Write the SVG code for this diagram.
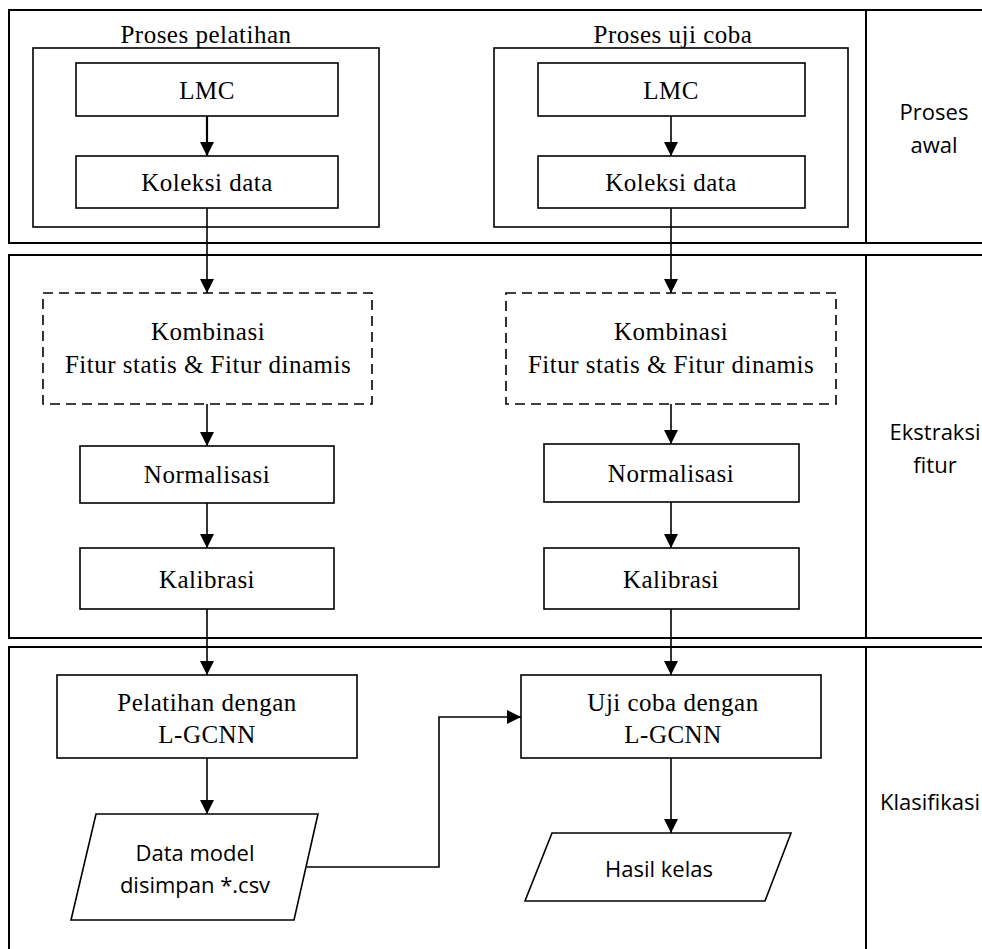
<svg xmlns="http://www.w3.org/2000/svg" width="982" height="949" viewBox="0 0 982 949">
<defs>
<marker id="ah" markerWidth="14" markerHeight="14" refX="14" refY="7" orient="auto" markerUnits="userSpaceOnUse"><path d="M0,0 L14,7 L0,14 z" fill="#000"/></marker>
<style>
.panel{fill:none;stroke:#000;stroke-width:2}
.box{fill:#fff;stroke:#000;stroke-width:1.6}
.dash{fill:#fff;stroke:#000;stroke-width:1.6;stroke-dasharray:10 6}
.serif{font-family:"Liberation Serif","Times New Roman",serif;font-size:25px;letter-spacing:0.5px;text-anchor:middle;fill:#000}
.sans{font-family:"Open Sans","Noto Sans",sans-serif;font-size:22px;text-anchor:middle;fill:#000}
.conn{fill:none;stroke:#000;stroke-width:1.6}
</style>
</defs>
<rect width="982" height="949" fill="#fff"/>
<g id="lanes">
<rect class="panel" x="9" y="10" width="990" height="233"/>
<rect class="panel" x="9" y="255" width="990" height="383"/>
<rect class="panel" x="9" y="647" width="990" height="320"/>
<line class="panel" x1="866" y1="10" x2="866" y2="243"/>
<line class="panel" x1="866" y1="255" x2="866" y2="638"/>
<line class="panel" x1="866" y1="647" x2="866" y2="949"/>
<text class="sans" x="934" y="120">Proses</text>
<text class="sans" x="934" y="153">awal</text>
<text class="sans" x="935" y="440">Ekstraksi</text>
<text class="sans" x="935" y="473">fitur</text>
<text class="sans" x="930" y="810">Klasifikasi</text>
</g>
<g id="group-train">
<rect class="box" x="33" y="48" width="346" height="179"/>
<text class="serif" x="206" y="43">Proses pelatihan</text>
</g>
<g id="group-test">
<rect class="box" x="494" y="48" width="354" height="179"/>
<text class="serif" x="673" y="43">Proses uji coba</text>
</g>
<g id="lmc-train"><rect class="box" x="76" y="63" width="262" height="53"/><text class="serif" x="207" y="99">LMC</text></g>
<g id="koleksi-train"><rect class="box" x="76" y="156" width="262" height="52"/><text class="serif" x="207" y="191">Koleksi data</text></g>
<g id="lmc-test"><rect class="box" x="538" y="63" width="267" height="53"/><text class="serif" x="671" y="99">LMC</text></g>
<g id="koleksi-test"><rect class="box" x="538" y="156" width="267" height="52"/><text class="serif" x="671" y="191">Koleksi data</text></g>
<g id="kombinasi-train"><rect class="dash" x="43" y="293" width="329" height="111"/><text class="serif" x="208" y="340">Kombinasi</text><text class="serif" x="208" y="373">Fitur statis &amp; Fitur dinamis</text></g>
<g id="kombinasi-test"><rect class="dash" x="506" y="293" width="330" height="111"/><text class="serif" x="671" y="340">Kombinasi</text><text class="serif" x="671" y="373">Fitur statis &amp; Fitur dinamis</text></g>
<g id="norm-train"><rect class="box" x="80" y="446" width="254" height="57"/><text class="serif" x="207" y="483">Normalisasi</text></g>
<g id="norm-test"><rect class="box" x="544" y="444" width="255" height="58"/><text class="serif" x="671" y="482">Normalisasi</text></g>
<g id="kal-train"><rect class="box" x="80" y="548" width="254" height="61"/><text class="serif" x="207" y="588">Kalibrasi</text></g>
<g id="kal-test"><rect class="box" x="544" y="548" width="255" height="61"/><text class="serif" x="671" y="588">Kalibrasi</text></g>
<g id="pelatihan"><rect class="box" x="57" y="675" width="300" height="83"/><text class="serif" x="207" y="711">Pelatihan dengan</text><text class="serif" x="207" y="743">L-GCNN</text></g>
<g id="ujicoba"><rect class="box" x="521" y="675" width="300" height="83"/><text class="serif" x="673" y="711">Uji coba dengan</text><text class="serif" x="673" y="743">L-GCNN</text></g>
<g id="datamodel"><polygon class="box" points="96,814 318,814 294,920 71,920"/><text class="sans" x="195" y="861">Data model</text><text class="sans" x="195" y="893">disimpan *.csv</text></g>
<g id="hasil"><polygon class="box" points="552,833 791,833 765,901 525,901"/><text class="sans" x="659" y="877">Hasil kelas</text></g>
<g id="connectors">
<line class="conn" style="stroke-width:2.2" x1="207" y1="116" x2="207" y2="156" marker-end="url(#ah)"/>
<line class="conn" x1="671" y1="116" x2="671" y2="156" marker-end="url(#ah)"/>
<line class="conn" x1="207" y1="208" x2="207" y2="293" marker-end="url(#ah)"/>
<line class="conn" x1="671" y1="208" x2="671" y2="293" marker-end="url(#ah)"/>
<line class="conn" x1="207" y1="404" x2="207" y2="446" marker-end="url(#ah)"/>
<line class="conn" x1="671" y1="404" x2="671" y2="444" marker-end="url(#ah)"/>
<line class="conn" x1="207" y1="503" x2="207" y2="548" marker-end="url(#ah)"/>
<line class="conn" x1="671" y1="502" x2="671" y2="548" marker-end="url(#ah)"/>
<line class="conn" x1="207" y1="609" x2="207" y2="675" marker-end="url(#ah)"/>
<line class="conn" x1="671" y1="609" x2="671" y2="675" marker-end="url(#ah)"/>
<line class="conn" x1="207" y1="758" x2="207" y2="814" marker-end="url(#ah)"/>
<line class="conn" x1="671" y1="758" x2="671" y2="833" marker-end="url(#ah)"/>
<polyline class="conn" points="307,867 439,867 439,717 521,717" marker-end="url(#ah)"/>
</g>
</svg>
